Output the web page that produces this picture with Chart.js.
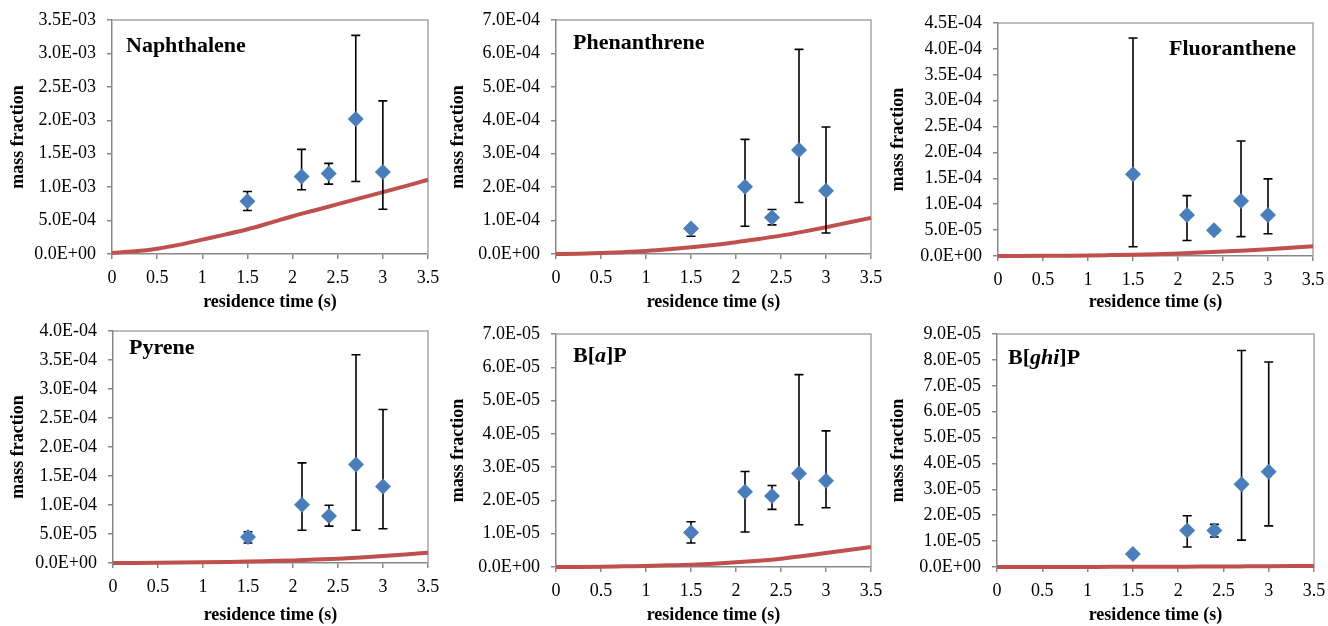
<!DOCTYPE html>
<html>
<head>
<meta charset="utf-8">
<script src="https://cdn.jsdelivr.net/npm/chart.js@4.4.1/dist/chart.umd.min.js"></script>
<style>
  body { margin: 0; background: #fff; font-family: "Liberation Serif", "Times New Roman", serif; }
  #wrap { position: relative; width: 1328px; height: 626px; overflow: hidden; }
  canvas { position: absolute; }
  .tag { position: absolute; font-weight: bold; font-size: 22px; line-height: 1; white-space: nowrap; color: #000; }
</style>
</head>
<body>
<div id="wrap"></div>
<script>
// measured residence times (s)
const residenceTimes = [1.5, 2.1, 2.4, 2.7, 3.0];
// model curve sample times (s)
const modelTimes = [0, 0.25, 0.5, 0.75, 1, 1.25, 1.5, 1.75, 2, 2.25, 2.5, 2.75, 3, 3.25, 3.5];

// Naphthalene
const naphMeasured = [7.9e-4, 1.16e-3, 1.205e-3, 2.02e-3, 1.225e-3];
const naphLow = [6.5e-4, 9.6e-4, 1.045e-3, 1.085e-3, 6.7e-4];
const naphHigh = [9.35e-4, 1.565e-3, 1.355e-3, 3.27e-3, 2.29e-3];
const naphModel = [1.5e-5, 4e-5, 8e-5, 1.4e-4, 2.15e-4, 2.9e-4, 3.7e-4, 4.65e-4, 5.65e-4,
  6.55e-4, 7.45e-4, 8.35e-4, 9.25e-4, 1.015e-3, 1.11e-3];

// Phenanthrene
const phenMeasured = [7.6e-5, 2.01e-4, 1.09e-4, 3.11e-4, 1.89e-4];
const phenLow = [5.3e-5, 8.3e-5, 8.7e-5, 1.54e-4, 6.3e-5];
const phenHigh = [8.3e-5, 3.43e-4, 1.33e-4, 6.12e-4, 3.8e-4];
const phenModel = [0, 1e-6, 3e-6, 5.5e-6, 9e-6, 1.4e-5, 2e-5, 2.7e-5, 3.5e-5,
  4.5e-5, 5.5e-5, 6.7e-5, 8e-5, 9.4e-5, 1.08e-4];

// Fluoranthene
const fluoMeasured = [1.58e-4, 7.9e-5, 4.95e-5, 1.06e-4, 7.9e-5];
const fluoLow = [1.8e-5, 3e-5, 4.4e-5, 3.75e-5, 4.3e-5];
const fluoHigh = [4.21e-4, 1.167e-4, 5.4e-5, 2.22e-4, 1.49e-4];
const fluoModel = [0, 1e-7, 3e-7, 6e-7, 1e-6, 1.7e-6, 2.5e-6, 3.6e-6, 5e-6,
  6.6e-6, 8.5e-6, 1.06e-5, 1.3e-5, 1.57e-5, 1.87e-5];

// Pyrene
const pyreMeasured = [4.5e-5, 1.005e-4, 8.1e-5, 1.7e-4, 1.32e-4];
const pyreLow = [3.45e-5, 5.65e-5, 6.35e-5, 5.65e-5, 5.9e-5];
const pyreHigh = [5.4e-5, 1.727e-4, 9.95e-5, 3.59e-4, 2.647e-4];
const pyreModel = [0, 1e-7, 3e-7, 7e-7, 1.2e-6, 1.8e-6, 2.5e-6, 3.5e-6, 4.5e-6,
  5.9e-6, 7.5e-6, 9.5e-6, 1.2e-5, 1.48e-5, 1.78e-5];

// B[a]P
const bapMeasured = [1.04e-5, 2.26e-5, 2.13e-5, 2.81e-5, 2.59e-5];
const bapLow = [7.2e-6, 1.05e-5, 1.73e-5, 1.27e-5, 1.78e-5];
const bapHigh = [1.36e-5, 2.87e-5, 2.45e-5, 5.78e-5, 4.09e-5];
const bapModel = [0, 3e-8, 1e-7, 2e-7, 3e-7, 5e-7, 7e-7, 1e-6, 1.4e-6,
  1.9e-6, 2.5e-6, 3.3e-6, 4.2e-6, 5.1e-6, 6e-6];

// B[ghi]P
const bghiMeasured = [5e-6, 1.414e-5, 1.414e-5, 3.2e-5, 3.68e-5];
const bghiLow = [3.9e-6, 7.7e-6, 1.157e-5, 1.04e-5, 1.59e-5];
const bghiHigh = [5.9e-6, 1.98e-5, 1.645e-5, 8.36e-5, 7.92e-5];
const bghiModel = [0, 0, 1e-8, 2e-8, 3e-8, 5e-8, 7e-8, 9e-8, 1.2e-7,
  1.6e-7, 2e-7, 2.5e-7, 3e-7, 3.5e-7, 4e-7];

// y axis ranges
const yMaxes = [3.5e-3, 7e-4, 4.5e-4, 4e-4, 7e-5, 9e-5];
const ySteps = [5e-4, 1e-4, 5e-5, 5e-5, 1e-5, 1e-5];
const xTicksMax = 3.5;
const xStep = 0.5;

// box = canvas [left, top, width, height]; area = plot area [left, top, right, bottom] inside the canvas
const panels = [
  { name: 'Naphthalene', mid: naphMeasured, lo: naphLow, hi: naphHigh, model: naphModel,
    box: [0, 0, 442, 313], area: [112, 20, 428, 254], tag: [126, 34] },
  { name: 'Phenanthrene', mid: phenMeasured, lo: phenLow, hi: phenHigh, model: phenModel,
    box: [440, 0, 452, 313], area: [116, 20, 431, 254], tag: [573, 31] },
  { name: 'Fluoranthene', mid: fluoMeasured, lo: fluoLow, hi: fluoHigh, model: fluoModel,
    box: [880, 0, 448, 313], area: [118, 23, 433, 256], tag: [1169, 37] },
  { name: 'Pyrene', mid: pyreMeasured, lo: pyreLow, hi: pyreHigh, model: pyreModel,
    box: [0, 313, 442, 313], area: [113, 18, 428, 250], tag: [129, 336] },
  { name: 'B[<i>a</i>]P', mid: bapMeasured, lo: bapLow, hi: bapHigh, model: bapModel,
    box: [440, 313, 452, 313], area: [116, 21, 431, 254], tag: [573, 344] },
  { name: 'B[<i>ghi</i>]P', mid: bghiMeasured, lo: bghiLow, hi: bghiHigh, model: bghiModel,
    box: [880, 313, 448, 313], area: [117, 21, 434, 254], tag: [1008, 346] },
];

function sci(v) {
  const parts = Number(v).toExponential(1).split('e');
  const e = parseInt(parts[1], 10);
  return parts[0] + 'E' + (e < 0 ? '-' : '+') + String(Math.abs(e)).padStart(2, '0');
}

// error bars drawn right after the model line, so markers sit on top
const errorBars = {
  id: 'errorBars',
  afterDatasetDraw(chart, args) {
    if (args.index !== 1) return;
    const { ctx, scales } = chart;
    const lo = chart.options.plugins.errorBars.lo;
    const hi = chart.options.plugins.errorBars.hi;
    ctx.save();
    ctx.strokeStyle = '#000';
    ctx.lineWidth = 1.6;
    residenceTimes.forEach((t, i) => {
      const px = scales.x.getPixelForValue(t);
      const yl = scales.y.getPixelForValue(lo[i]);
      const yh = scales.y.getPixelForValue(hi[i]);
      ctx.beginPath();
      ctx.moveTo(px, yl); ctx.lineTo(px, yh);
      ctx.moveTo(px - 4.5, yl); ctx.lineTo(px + 4.5, yl);
      ctx.moveTo(px - 4.5, yh); ctx.lineTo(px + 4.5, yh);
      ctx.stroke();
    });
    ctx.restore();
  }
};

// light grey frame on the top and right of the plot area
const frame = {
  id: 'frame',
  beforeDatasetsDraw(chart) {
    const { ctx, chartArea: a } = chart;
    ctx.save();
    ctx.strokeStyle = '#a6a6a6';
    ctx.lineWidth = 1.5;
    ctx.beginPath();
    ctx.moveTo(a.left, a.top); ctx.lineTo(a.right, a.top); ctx.lineTo(a.right, a.bottom);
    ctx.stroke();
    ctx.restore();
  }
};

const wrap = document.getElementById('wrap');

panels.forEach((p, k) => {
  const [bx, by, bw, bh] = p.box;
  const [al, at, ar, ab] = p.area;
  const canvas = document.createElement('canvas');
  canvas.width = bw; canvas.height = bh;
  canvas.style.left = bx + 'px'; canvas.style.top = by + 'px';
  wrap.appendChild(canvas);

  const tag = document.createElement('div');
  tag.className = 'tag';
  tag.innerHTML = p.name;
  tag.style.left = p.tag[0] + 'px'; tag.style.top = p.tag[1] + 'px';
  wrap.appendChild(tag);

  new Chart(canvas.getContext('2d'), {
    type: 'scatter',
    data: {
      datasets: [
        {
          label: 'measured',
          data: residenceTimes.map((t, i) => ({ x: t, y: p.mid[i] })),
          pointStyle: 'rectRot',
          pointRadius: 8,
          pointBackgroundColor: '#4a7ebb',
          pointBorderColor: '#4a7ebb',
          pointBorderWidth: 0,
        },
        {
          type: 'line',
          label: 'model',
          data: modelTimes.map((t, i) => ({ x: t, y: p.model[i] })),
          borderColor: '#c0504d',
          borderWidth: 4,
          pointRadius: 0,
          cubicInterpolationMode: 'monotone',
          clip: 4,
        },
      ],
    },
    options: {
      responsive: false,
      animation: false,
      events: [],
      layout: { padding: { left: 0, top: at, right: bw - ar, bottom: 0 } },
      plugins: {
        legend: { display: false },
        tooltip: { enabled: false },
        errorBars: { lo: p.lo, hi: p.hi },
      },
      scales: {
        x: {
          type: 'linear',
          min: 0,
          max: xTicksMax,
          ticks: {
            stepSize: xStep,
            color: '#000',
            padding: 8,
            maxRotation: 0,
            font: { family: 'Liberation Serif', size: 18 },
            callback: (v) => String(+Number(v).toFixed(2)),
          },
          grid: { drawOnChartArea: false, tickLength: 5, color: '#888', lineWidth: 1.5 },
          border: { color: '#888', width: 1.5 },
          title: {
            display: true,
            text: 'residence time (s)',
            color: '#000',
            padding: { top: 0, bottom: 0 },
            font: { family: 'Liberation Serif', size: 18, weight: 'bold' },
          },
          afterFit(scale) {
            scale.height = bh - ab;
            scale.paddingLeft = 0;
            scale.paddingRight = 0;
          },
        },
        y: {
          min: 0,
          max: yMaxes[k],
          ticks: {
            stepSize: ySteps[k],
            color: '#000',
            padding: 11,
            font: { family: 'Liberation Serif', size: 18 },
            callback: (v) => sci(v),
          },
          grid: { drawOnChartArea: false, tickLength: 5, color: '#888', lineWidth: 1.5 },
          border: { color: '#888', width: 1.5 },
          title: {
            display: true,
            text: 'mass fraction',
            color: '#000',
            padding: { top: 8, bottom: 8 },
            font: { family: 'Liberation Serif', size: 18, weight: 'bold' },
          },
          afterFit(scale) {
            scale.width = al;
            scale.paddingTop = 0;
            scale.paddingBottom = 0;
          },
        },
      },
    },
    plugins: [frame, errorBars],
  });
});
</script>
</body>
</html>
